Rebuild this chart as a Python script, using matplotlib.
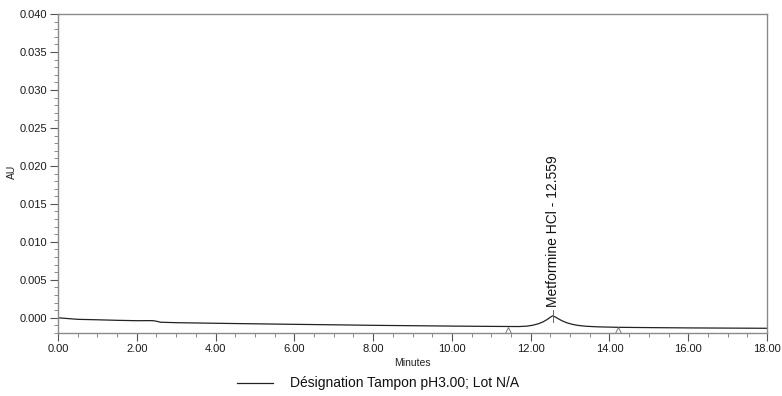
import matplotlib
matplotlib.use("Agg")
import matplotlib.pyplot as plt
from matplotlib.ticker import MultipleLocator, FormatStrFormatter
from matplotlib.lines import Line2D

plt.rcParams['font.family'] = ['Liberation Sans', 'DejaVu Sans']

# Chromatogram trace: retention time (min) and absorbance (AU)
minutes = [0.0, 0.5, 1.0, 1.5, 2.0, 2.4, 2.5, 2.6, 3.0, 4.0, 5.0, 6.0, 7.0,
           8.0, 9.0, 10.0, 11.0, 11.7, 11.9, 12.05, 12.2, 12.32, 12.42,
           12.5, 12.559, 12.62, 12.7, 12.8, 12.92, 13.05, 13.2, 13.4, 13.7,
           14.2, 15.0, 16.0, 18.0]
absorbance = [0.0, -0.00020, -0.00026, -0.00033, -0.00038, -0.00037,
              -0.00045, -0.00058, -0.00064, -0.00072, -0.00079, -0.00086,
              -0.00092, -0.00099, -0.00104, -0.00109, -0.00113, -0.00115,
              -0.00110, -0.00098, -0.00078, -0.00052, -0.00022, 0.00008,
              0.00026, 0.00012, -0.00012, -0.00040, -0.00066, -0.00085,
              -0.00100, -0.00111, -0.00119, -0.00125, -0.00129, -0.00133,
              -0.00138]

peak_name = "Metformine HCl"
peak_rt = 12.559
peak_au = 0.00026

# Integration start / end markers
integ_times = [11.42, 14.22]
integ_au = [-0.0016, -0.0016]

x_ticks = [0, 2, 4, 6, 8, 10, 12, 14, 16, 18]
y_ticks = [0.000, 0.005, 0.010, 0.015, 0.020, 0.025, 0.030, 0.035, 0.040]

legend_label = "Désignation Tampon pH3.00; Lot N/A"

fig = plt.figure(figsize=(7.82, 3.96), dpi=100)
ax = fig.add_axes([58 / 782, 1 - 333 / 396, (767 - 58) / 782, (333 - 14) / 396])

ax.plot(minutes, absorbance, color="#222222", lw=0.9)
ax.plot(integ_times, integ_au, linestyle="none", marker="^", markersize=4,
        markerfacecolor="none", markeredgecolor="#777777", markeredgewidth=0.7)

# Peak apex tick and label
ax.plot([peak_rt, peak_rt], [peak_au - 0.0008, peak_au + 0.0008],
        color="#666666", lw=0.7)
ax.text(peak_rt, peak_au + 0.0011, f"{peak_name} - {peak_rt:.3f}",
        rotation=90, ha="center", va="bottom", fontsize=10, color="#111111")

ax.set_xlim(0, 18)
ax.set_ylim(-0.002, 0.040)
ax.set_xticks(x_ticks)
ax.set_yticks(y_ticks)
ax.xaxis.set_major_formatter(FormatStrFormatter("%.2f"))
ax.yaxis.set_major_formatter(FormatStrFormatter("%.3f"))
ax.xaxis.set_minor_locator(MultipleLocator(0.5))
ax.yaxis.set_minor_locator(MultipleLocator(0.001))

ax.tick_params(axis="both", which="major", direction="out", length=6,
               width=0.8, color="#555555", labelsize=8, labelcolor="#1a1a1a",
               pad=2)
ax.tick_params(axis="both", which="minor", direction="out", length=3,
               width=0.6, color="#777777")

for sp in ax.spines.values():
    sp.set_color("#8a8a8a")
    sp.set_linewidth(1.0)

ax.set_xlabel("Minutes", fontsize=7.5, labelpad=3, color="#222222")
fig.text(12 / 782, 1 - 172 / 396, "AU", rotation=90, ha="center", va="center",
         fontsize=7.5, color="#222222")

# Legend entry below the axis
fig.add_artist(Line2D([237 / 782, 273 / 782], [1 - 383 / 396, 1 - 383 / 396],
                      color="#222222", lw=0.9))
fig.text(290 / 782, 1 - 383 / 396, legend_label, ha="left", va="center",
         fontsize=10, color="#111111")

fig.savefig("out.png", dpi=100)
